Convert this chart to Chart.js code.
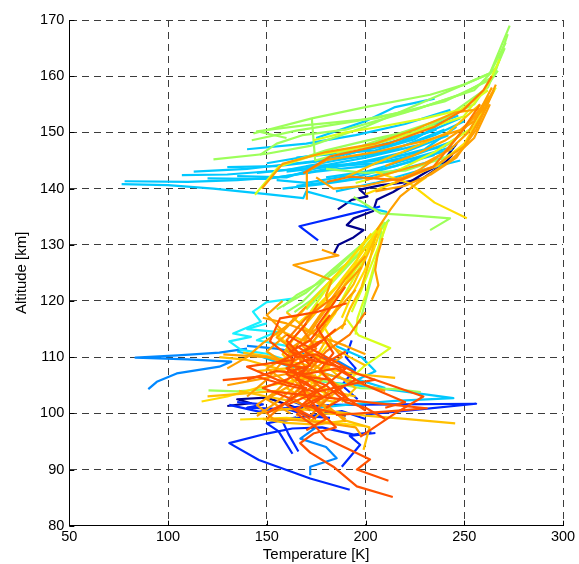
<!DOCTYPE html>
<html><head><meta charset="utf-8">
<script src="https://cdn.jsdelivr.net/npm/chart.js@4/dist/chart.umd.min.js"></script>
<style>html,body{margin:0;padding:0;background:#fff}</style>
</head><body>
<canvas id="c" width="579" height="564"></canvas>
<script>
// Axis ticks
const xTicks = [50, 100, 150, 200, 250, 300];
const yTicks = [80, 90, 100, 110, 120, 130, 140, 150, 160, 170];

// Profiles: [temperature K, altitude km], grouped by colour (jet colormap order)
const navyProfiles = [
  [[183.7,128.2],[186.3,130],[193.9,131.3],[199,132.6],[190.5,133.5],[194,134.7],[203.9,136],[205.7,138],[214,139.4],[231,143],[238.6,144.5],[246.3,148.1]],
  [[186,136.3],[193,138],[201,138.6],[197,139.8],[208,140.6],[218,141],[229,141.8],[240,144.5],[244,146]],
  [[130,101.3],[142,101.8],[135,102.5],[150,102.8],[165,101],[180,100.2],[190,99.6]]
];
const blueProfiles = [
  [[176,130.8],[166.5,133.3],[197.3,135.9],[207.4,136.8]],
  [[192,86.4],[172,88.4],[146,91.7],[131,94.7],[150,96.4],[163,97.3],[178,97.5],[194,96.2],[203,96.6]],
  [[166,93.2],[161,96.3],[158,98.6],[170,99.5],[182,99.2]],
  [[163,92.8],[156,96.8],[150,98.2],[165,99.3]],
  [[131,101.5],[146,100.3],[160,100.8],[172,99.5],[188,100.4],[200,99]],
  [[193,113],[190,110],[195,108],[188,105],[196,102.5]],
  [[188,90.5],[197.3,94.4],[192,96],[205,96.5]],
  [[135,102],[148,101.6],[140,101],[155,100.8],[170,101.2],[160,102.5]],
  [[160,101],[185,101.5],[215,101.6],[256,101.7],[225,100.6],[200,99.8]]
];
const azureProfiles = [
  [[90,104.3],[94.3,105.6],[104.4,107.1],[126,108.3],[132,109.2],[110,109.6],[83.5,109.9],[105,110.3],[126,110.8],[140,111.5]],
  [[172,89],[172,90.5],[185.4,92],[180,94],[167,95.5],[175,97.5]],
  [[140,112],[155,111.5],[170,110.5],[185,109.5],[195,107.5]]
];
const cyanProfiles = [
  [[76.5,140.8],[100,140.6],[123,140],[150,139],[168.5,138.3],[170,139.5],[190,137.6],[211,135.8]],
  [[78,141.3],[110,141.2],[135,141.5],[155,142],[175,143],[200,144],[225,146],[245,148.5]],
  [[107,142.4],[130,142.5],[160,143.3],[185,145],[210,146.5],[235,149.5],[250,152]],
  [[113,143],[140,143.5],[165,144.5],[190,145.5],[215,147],[240,150.5]],
  [[135,142.2],[160,142],[180,144.2],[200,145.5],[230,148]],
  [[155,141.5],[170,141],[195,142.5],[215,144],[238,146.5]],
  [[150,144.5],[175,146],[200,147.5],[225,150],[247,153]],
  [[165,140.5],[190,141.5],[210,143.5],[235,146]],
  [[175,149],[200,152],[215,154.5],[235,156]],
  [[140,147],[170,148],[195,149.5],[220,151.5],[243,154]],
  [[120,141.8],[150,141.7],[170,142.8],[195,144.5],[220,146.5],[242,149.5]],
  [[180,142],[200,143],[220,145],[245,147.5]],
  [[185,139.5],[205,141],[225,143],[248,145]],
  [[160,143],[180,143.8],[200,144.8],[220,146],[240,147.5],[250,150]],
  [[170,144],[190,144.3],[210,145.2],[230,147],[246,151]],
  [[165,145.5],[185,146.2],[205,146.8],[225,148.8],[240,152]],
  [[190,146],[210,148],[230,149.8],[248,152.5]],
  [[130,143.8],[155,144],[175,144.8],[195,146.5],[215,148],[236,150.5]],
  [[145,142.8],[165,143.5],[185,144],[205,144.5],[228,145.5],[244,147]],
  [[158,140],[178,140.8],[198,141.8],[222,143.8],[240,145.5]],
  [[170,106],[195,105],[219,103.9],[244.5,102.7],[215,102.2],[190,101.5],[170,100.8]],
  [[135,111],[148,110],[160,108.5],[175,107.5],[190,106],[200,104.8]],
  [[185,112],[198,110],[205,107.5],[196,106],[210,104.5]]
];
const lightCyanProfiles = [
  [[165,120.5],[150,119.8],[143,118.1],[147,116.3],[133,114.2],[142,113.6],[131,112.8],[137,111.3],[150,110.6],[160,109.5]],
  [[150,116],[140,115],[155,114.5],[145,113],[160,112]]
];
const greenProfiles = [
  [[123,145.2],[150,146.2],[172,147.6],[200,151],[232,155.8],[263,160.5],[273,169]],
  [[143.2,149.8],[172.8,152.5],[200,154.5],[232.7,156.7],[250,158.5],[263,160.5],[271,166]],
  [[142.4,148.6],[165,150.3],[195,152],[225,154],[250,157],[265,160],[272,167.5]],
  [[172.8,152.5],[174.5,145],[185,146],[210,149],[240,152.5],[262,158],[270.5,165]],
  [[146.6,146],[155,148],[168,149.5],[190,150.5],[220,153.5],[255,157.5],[266,161.5]],
  [[160,149],[145,150.2],[170,151.3],[205,152.5],[240,155.5],[264,159.5]],
  [[160,144.5],[180,146.8],[200,148.5],[230,150.8],[255,155],[267,161]],
  [[194,138.5],[207.5,135.6],[225,135.2],[242.8,134.7],[232.7,132.6]],
  [[180,143.5],[200,142.8],[220,143.2],[240,145.5],[252,148]],
  [[212,134.4],[198,130],[183,125.5],[170,121.5],[163.5,120.2],[155,118.5]],
  [[210,134],[195,129],[180,124],[168,119.8],[160,118]],
  [[208,132.5],[206,128],[203,124],[200,120],[197,116]],
  [[205,131],[192,127],[178,123.5],[165,121],[158,119]],
  [[209,133.5],[197,128.5],[185,124.5],[172,120],[164,118]],
  [[212,134.5],[204,131],[193,127],[181,122.5],[170,118.5]],
  [[120.5,104.1],[135,103.9],[150,104.3]],
  [[175,106],[197,104.5],[215,104.3],[228,103.8]]
];
const yellowGreenProfiles = [
  [[144,138.9],[156,143.9],[172,145.7],[200.7,147.5],[225,150],[249.6,152.8],[261.5,158.1],[268,163]],
  [[173.6,148.6],[190,150],[207.4,151],[230,152.5],[248,154],[262,157.5]],
  [[195,141],[215,143],[235,146.5],[255,151],[266,158]],
  [[209,134],[200,130.5],[190,126.5],[180,122],[172,118]],
  [[208,133.5],[203,130],[197,126],[190,121.5],[184,117.5]],
  [[210,133.5],[205,127],[200,121],[196,117],[195,114]],
  [[207,133],[201,129],[193,124.5],[184,120],[176,117]],
  [[211,134],[207,130],[203,126.5],[198,122],[193,118]],
  [[190,117],[196.4,113.9],[212.5,111.6],[199,108.3],[192,106]]
];
const yellowProfiles = [
  [[251.3,134.7],[235,137.5],[222.6,140.9],[213,142],[205,143]],
  [[225,140.6],[231,142.1]],
  [[200,139],[218,141.5],[236,144],[250,148],[262,155]],
  [[208,133],[204,129],[199,125],[193,121],[188,117]],
  [[207,133],[199,128],[188,123.5],[178,119.5],[170,116.5]],
  [[206,132.5],[196,127.5],[185,122.5],[174,118.5],[166,116]],
  [[117,102.1],[130,103],[145,104.5],[160,105.5],[175,106.8]],
  [[203,132],[190,126.5],[178,122],[165,117],[155,114],[165,111],[175,109]],
  [[200,131],[193,125],[186,121],[178,116],[183,113],[176,110]],
  [[185,118],[178,114.5],[170,111.5],[182,108.5],[172,105],[185,102.5],[178,100]],
  [[136.5,98.9],[160,99.2],[180,98.5],[200,97.7]]
];
const goldProfiles = [
  [[190,142],[205,144.5],[222,147],[242,150],[258,155]],
  [[245.4,98.2],[220,99],[200,99.6],[180,100.5],[160,100.8],[145,100]],
  [[215,106.3],[195,107],[178,108],[165,109],[150,110.2],[138,110.8]],
  [[126,110],[140,109.5],[155,108],[170,106],[182,104],[195,103]],
  [[148,99],[160,98.3],[175,98],[190,98.7],[202,97.5],[199,93.5]],
  [[136,104],[150,103],[165,102],[178,100],[190,99.8]],
  [[206,132],[200,127.5],[194,123],[186,119],[180,116]],
  [[205,131.5],[202,127],[198,122.5],[192,118.5],[188,115]],
  [[120,103],[138,103.5],[155,104],[170,103],[185,102]],
  [[155,115],[168,113],[180,112.5],[192,110],[200,108.5]],
  [[145,107.5],[160,108],[172,106],[165,104],[180,103]],
  [[160,118],[170,115],[180,113],[175,110],[185,107],[195,104.5],[188,102]],
  [[175,118],[165,114],[158,110.5],[168,107],[160,104.5],[172,102],[165,99.5]]
];
const orangeProfiles = [
  [[147.5,140],[158,144.4],[180,146.5],[205,148],[225,150.5],[245,153.5],[260.5,154.3],[266,158.5]],
  [[170.3,138],[170.3,143],[180.4,145.1],[205,146.5],[230,148.5],[248,150.4],[260.5,154.3],[264,157]],
  [[175,142],[183.7,140],[200,140.5],[219,142],[235,144],[250,147.5],[262,155]],
  [[200,141.5],[215,143],[230,144.5],[243,147],[252,150],[262,156]],
  [[205,139.5],[220,140.5],[233,142.5],[246,145.5],[256,150.5],[265,157.5]],
  [[210,144],[225,146],[240,148.5],[255,152],[264,158]],
  [[215,141],[228,143.5],[240,146.5],[252,151.5],[263,156.5]],
  [[205.7,132.6],[212.5,136.2],[217.6,138.6],[228,141.5],[243,145],[255,149],[263,155]],
  [[177.9,129.1],[186.3,128.1],[163.5,126.4],[182.9,123.7],[180,121],[182,118.5]],
  [[208.7,131.2],[206,128],[204.9,125.5],[206.5,122.8],[203.2,120.2]],
  [[200,128],[190,124],[180,119],[170,114],[160,110],[150,106],[140,103]],
  [[198,126],[185,121],[175,116],[168,112],[178,109],[165,105],[155,102],[145,99.5]],
  [[195,122],[182,117],[170,113.5],[160,111],[175,108.5],[185,105],[175,102],[190,99]],
  [[128,110.5],[150,110],[170,108],[185,106.5],[200,105],[210,104]],
  [[148,117],[160,116],[175,114],[190,112],[200,110.5]],
  [[130,105],[145,106],[160,107],[170,104],[180,101],[172,98.5]],
  [[158,120],[150,117.5],[160,114],[150,111],[165,107.5],[155,104],[145,101.5],[155,98.5]],
  [[152,99],[165,98.8],[180,98.3],[195,97.5],[198,96]],
  [[170,119],[160,115.5],[148,112.5],[140,110],[130,108]],
  [[180,116],[172,112],[165,108],[178,106],[168,103.5],[182,101],[190,98.5]],
  [[190,116],[180,113.5],[188,110],[176,107.5],[188,104.5],[176,101.5]],
  [[165,117],[155,113.5],[165,111],[150,108],[162,105],[150,102.5],[162,100]]
];
const darkOrangeProfiles = [
  [[168.5,142.7],[182,145.7],[212.4,148.1],[235,151],[249.6,154],[259.7,157.5],[264,160]],
  [[180.4,141.2],[192.2,142.1],[217.5,141.5],[234.4,143.9],[248,149.8],[258,155]],
  [[185,121],[170,117],[160,113],[168,109],[175,105],[160,102],[150,99]],
  [[200,118],[192,114],[180,111],[170,107],[182,103],[172,99.5]],
  [[176,119.5],[168,115],[175,111.5],[162,109],[172,106],[162,103],[172,100.5]]
];
const redProfiles = [
  [[213.8,85.1],[195.6,87],[183.7,90.5],[172,93],[166.9,94.7],[173.6,96.4],[185,97.5],[178,100],[170,103],[165,107]],
  [[211.6,88],[195.6,90],[202.3,91.8],[192,93.5],[180,95.5],[175,97.5],[165,100]],
  [[160,114],[175,111],[195.6,107.1],[229.3,103],[215,100],[197.3,95.8]],
  [[150,104],[175,103],[205,101.8],[231,100.9],[210,100.3],[185,99.7]],
  [[127.7,105.9],[145,106.5],[160,105],[175,103.8],[190,105],[205,106]],
  [[190.5,119.6],[175,118],[156.7,116.9],[151.6,112.8],[163.5,109.5],[140,108.3],[155,106],[170,104.5],[158,101.5],[150,100]],
  [[189.7,122.5],[175.3,115.4],[183.7,110.7],[177,107.7],[185.4,104.2],[172,101.5],[180,99],[170,97]],
  [[185,115],[175,112],[165,110.5],[160,107],[170,105.5],[178,103],[165,100.8],[175,99]],
  [[178,113],[168,111],[155,109],[170,108],[160,106],[148,104.5],[163,102.5],[152,100.5]],
  [[190,111],[180,109],[170,109.5],[160,108],[170,106.5],[182,106],[190,103],[180,101]],
  [[170,116],[160,112],[165,110],[175,110.5],[185,108.5],[195,106],[185,104],[200,100.5]],
  [[160,113],[172,108.5],[162,107.5],[180,105],[190,102],[200,101],[210,99]],
  [[182,117.5],[172,113],[162,111],[174,109.5],[165,106],[176,104],[168,101.5],[185,100]],
  [[140,106],[155,107.5],[170,107],[185,108],[200,105],[220,102],[210,101]],
  [[165,112],[178,109],[190,108],[180,105],[170,103],[160,101.5],[172,99]]
];

const groupColors = [
  [navyProfiles, '#00008c'],
  [blueProfiles, '#0028ff'],
  [azureProfiles, '#0088ff'],
  [cyanProfiles, '#00c8ff'],
  [lightCyanProfiles, '#18f0ff'],
  [greenProfiles, '#9cff5a'],
  [yellowGreenProfiles, '#d8ff1c'],
  [yellowProfiles, '#ffdc00'],
  [goldProfiles, '#ffc000'],
  [orangeProfiles, '#ffa000'],
  [darkOrangeProfiles, '#ff7c00'],
  [redProfiles, '#ff5000']
];

const datasets = [];
groupColors.forEach(([profiles, color]) => {
  profiles.forEach(p => {
    datasets.push({
      data: p.map(([t, z]) => ({x: t, y: z})),
      borderColor: color,
      backgroundColor: color,
      borderWidth: 2.2,
      borderJoinStyle: 'round',
      borderCapStyle: 'butt',
      showLine: true,
      pointRadius: 0,
      tension: 0
    });
  });
});
// later groups drawn on top
datasets.forEach((d, i) => { d.order = datasets.length - i; });

const inwardTicks = {
  id: 'inwardTicks',
  afterDraw(chart) {
    const {ctx, chartArea, scales} = chart;
    ctx.save();
    ctx.strokeStyle = '#000';
    ctx.lineWidth = 1;
    ctx.beginPath();
    xTicks.forEach(v => {
      const px = Math.round(scales.x.getPixelForValue(v)) + 0.5;
      ctx.moveTo(px, chartArea.bottom);
      ctx.lineTo(px, chartArea.bottom - 5);
    });
    yTicks.forEach(v => {
      const py = Math.round(scales.y.getPixelForValue(v)) + 0.5;
      ctx.moveTo(chartArea.left, py);
      ctx.lineTo(chartArea.left + 5, py);
    });
    ctx.stroke();
    ctx.restore();
  }
};

const FONT = 'Liberation Sans, Arial, Helvetica, sans-serif';

new Chart(document.getElementById('c'), {
  type: 'scatter',
  data: { datasets },
  plugins: [inwardTicks],
  options: {
    responsive: false,
    animation: false,
    layout: { padding: { top: 20, right: 16, left: 0, bottom: 0 } },
    plugins: { legend: { display: false }, tooltip: { enabled: false } },
    scales: {
      x: {
        type: 'linear', min: 50, max: 300,
        afterBuildTicks(s) { s.ticks = xTicks.map(v => ({value: v})); },
        ticks: { padding: 3, color: '#000', font: { family: FONT, size: 14.5 }, maxRotation: 0 },
        grid: { color: '#3c3c3c', lineWidth: 1, drawTicks: false },
        border: { display: true, color: '#000', width: 1, dash: [7, 5] },
        title: { display: true, text: 'Temperature [K]', color: '#000', font: { family: FONT, size: 15 }, padding: { top: 0, bottom: 0 } },
        afterFit(s) { s.height = 38.3; }
      },
      y: {
        type: 'linear', min: 80, max: 170,
        afterBuildTicks(s) { s.ticks = yTicks.map(v => ({value: v})); },
        ticks: { padding: 5, color: '#000', font: { family: FONT, size: 14.5 } },
        grid: { color: '#3c3c3c', lineWidth: 1, drawTicks: false },
        border: { display: true, color: '#000', width: 1, dash: [7, 5] },
        title: { display: true, text: 'Altitude [km]', color: '#000', font: { family: FONT, size: 15 }, padding: { top: 13, bottom: 0 } },
        afterFit(s) { s.width = 69.3; }
      }
    }
  }
});
</script>
</body></html>
